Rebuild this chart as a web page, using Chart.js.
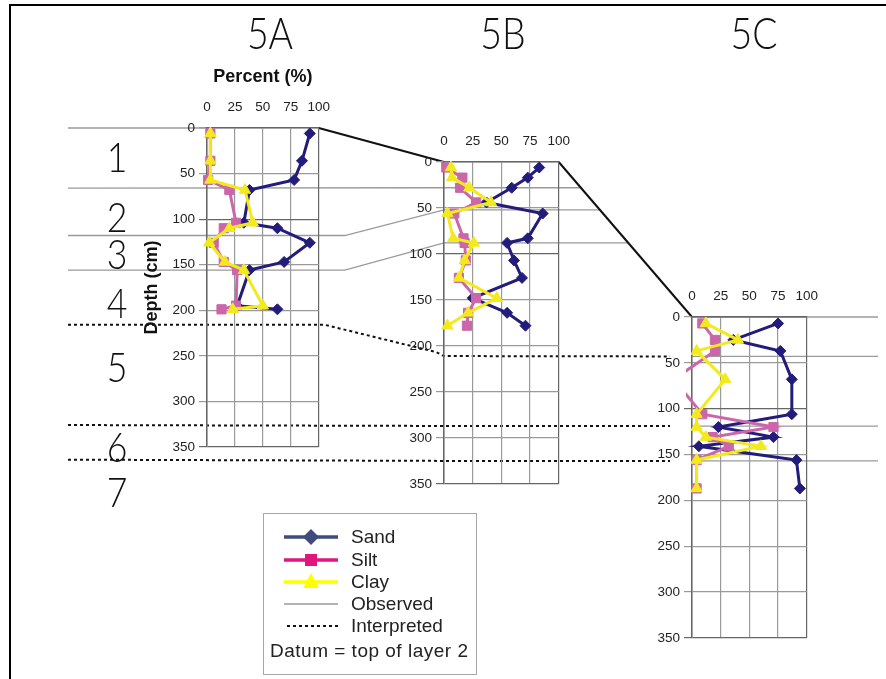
<!DOCTYPE html>
<html>
<head>
<meta charset="utf-8">
<script src="https://cdn.jsdelivr.net/npm/chart.js@4.4.1/dist/chart.umd.min.js"></script>
<style>
  html, body { margin: 0; padding: 0; background: #fff; }
  #fig { position: relative; width: 886px; height: 679px; overflow: hidden; font-family: "Liberation Sans", Arial, sans-serif; }
  #frame { position: absolute; left: 9px; top: 4px; width: 900px; height: 720px; border-left: 2px solid #000; border-top: 2px solid #000; }
  #overlay { position: absolute; left: 0; top: 0; z-index: 0; }
  canvas.core { position: absolute; z-index: 1; }
  .big { position: absolute; z-index: 2; width: 80px; margin-left: -40px; text-align: center; font-family: Lato, "Liberation Sans", sans-serif; font-weight: 300; line-height: 1; color: #111; transform: scaleX(0.85); }
  #legend { position: absolute; z-index: 2; left: 263px; top: 513px; width: 212px; height: 160px; border: 1.5px solid #a8a8a8; }
  .leg { position: absolute; z-index: 3; font-size: 19px; line-height: 22px; color: #222; white-space: nowrap; }
  .note { letter-spacing: 0.5px; }
</style>
</head>
<body>
<div id="fig">
  <div id="frame"></div>
  <canvas id="overlay" width="886" height="679"></canvas>
  <canvas id="chartA" class="core"></canvas>
  <canvas id="chartB" class="core"></canvas>
  <canvas id="chartC" class="core"></canvas>
  <div id="legend"></div>
</div>
<script>
// ---------------- DATA ----------------
const percentTicks = [0, 25, 50, 75, 100];
const depthTicks = [0, 50, 100, 150, 200, 250, 300, 350];
const coreNames = ["5A", "5B", "5C"];
const layerNames = ["1", "2", "3", "4", "5", "6", "7"];
const seriesNames = ["Sand", "Silt", "Clay"];
const lineNames = ["Observed", "Interpreted"];
const datumNote = "Datum = top of layer 2";

// core 5A (depth cm, percent)
const depthA = [6, 36, 57, 68, 104, 110, 126, 147, 156, 195, 199];
const sandA  = [92, 85, 78, 38, 33, 63, 92, 69, 38, 27, 63];
const siltA  = [3, 3, 1, 20, 26, 15, 6, 15, 27, 26, 13];
const clayA  = [3, 3, 3, 34, 41, 20, 2, 16, 33, 50, 23];

// core 5B
const depthB = [6, 17, 28, 44, 56, 83, 88, 107, 126, 148, 164, 178];
const sandB  = [83, 73, 59, 37, 86, 73, 55, 61, 68, 25, 55, 71];
const siltB  = [2, 16, 14, 28, 9, 17, 18, 19, 13, 28, 21, 20];
const clayB  = [6, 7, 22, 41, 3, 8, 26, 18, 13, 46, 21, 3];

// core 5C
const depthC = [7, 25, 37, 68, 106, 120, 131, 141, 156, 187];
const sandC  = [75, 36, 77, 87, 87, 23, 71, 6, 91, 94];
const siltC  = [9, 20, 20, -16, 9, 71, 18, 32, 4, 4];
const clayC  = [12, 40, 4, 29, 4, 4, 12, 60, 4, 4];

// layer boundaries (depth cm in each core)
const observedA = [0, 66, 118, 156];
const observedB = [0, 28, 52, 88];
const observedC = [0, 43, 119, 157];
const interpretedA = [216, 326, 364];
const interpretedB = [211, 287, 325];

// ---------------- STYLE ----------------
const SAND = "#231c7a", SILT = "#cc66aa", CLAY = "#f2ea1d";
Chart.defaults.font.family = '"Liberation Sans", Arial, sans-serif';

function pts(depths, vals) {
    return depths.map((d, i) => ({ x: vals[i], y: d }));
}

function series(label, data, color, style, radius, order) {
    return {
        label: label, data: data, showLine: true,
        borderColor: color, backgroundColor: color, borderWidth: 3,
        pointStyle: style, pointRadius: radius, pointBorderWidth: 1,
        pointBorderColor: color, pointBackgroundColor: color,
        order: order, clip: 6
    };
}

function makeCore(id, box, depths, sand, silt, clay, first) {
    const padL = first ? 66 : 50;
    const padT = first ? 62 : 40;
    const canvas = document.getElementById(id);
    canvas.width = padL + box.w + 14;
    canvas.height = padT + box.h + 10;
    canvas.style.left = (box.x - padL) + "px";
    canvas.style.top = (box.y - padT) + "px";

    const edge = c => (c.tick && (c.tick.value === 100 || c.tick.value === 350)) ? "#666" : "#9a9a9a";

    const chart = new Chart(canvas, {
        type: "scatter",
        data: {
            datasets: [
                series(seriesNames[0], pts(depths, sand), SAND, "rectRot", 5.5, 3),
                series(seriesNames[1], pts(depths, silt), SILT, "rect", 6.5, 2),
                series(seriesNames[2], pts(depths, clay), CLAY, "triangle", 6.5, 1)
            ]
        },
        options: {
            responsive: false,
            animation: false,
            layout: { padding: { left: 0, top: 0, right: 14, bottom: 10 } },
            plugins: { legend: { display: false }, tooltip: { enabled: false } },
            scales: {
                x: {
                    type: "linear", position: "top",
                    min: percentTicks[0], max: percentTicks[percentTicks.length - 1],
                    afterBuildTicks: s => { s.ticks = percentTicks.map(v => ({ value: v })); },
                    ticks: { padding: 13, color: "#222", font: { size: 13.5 } },
                    grid: { color: edge, lineWidth: 1.2, drawTicks: false },
                    border: { color: "#666", width: 1.5 },
                    title: { display: first, text: "Percent (%)", color: "#111", padding: 0, font: { size: 18, weight: "bold" } },
                    afterFit: s => { s.height = padT; }
                },
                y: {
                    type: "linear", reverse: true,
                    min: depthTicks[0], max: depthTicks[depthTicks.length - 1],
                    afterBuildTicks: s => { s.ticks = depthTicks.map(v => ({ value: v })); },
                    ticks: { padding: 4, color: "#222", font: { size: 13.5 } },
                    grid: { color: edge, lineWidth: 1.2, tickLength: 8 },
                    border: { color: "#666", width: 1.5 },
                    title: { display: first, text: "Depth (cm)", color: "#111", padding: 0, font: { size: 18, weight: "bold" } },
                    afterFit: s => { s.width = padL; }
                }
            }
        }
    });
    return { chart: chart, left: box.x - padL, top: box.y - padT };
}

const A = makeCore("chartA", { x: 207, y: 128, w: 122, h: 321 }, depthA, sandA, siltA, clayA, true);
const B = makeCore("chartB", { x: 444, y: 162, w: 125, h: 324 }, depthB, sandB, siltB, clayB, false);
const C = makeCore("chartC", { x: 692, y: 317, w: 125, h: 323 }, depthC, sandC, siltC, clayC, false);

// page coordinates through each core's own scales
const X = (c, v) => c.left + c.chart.scales.x.getPixelForValue(v);
const Y = (c, d) => c.top + c.chart.scales.y.getPixelForValue(d);

// ---------------- OVERLAY: layer correlation lines ----------------
const ctx = document.getElementById("overlay").getContext("2d");

function poly(p) {
    ctx.beginPath();
    ctx.moveTo(p[0][0], p[0][1]);
    for (let i = 1; i < p.length; i++) ctx.lineTo(p[i][0], p[i][1]);
    ctx.stroke();
}

const leftX = 68, rightX = 878;
const bc0 = [X(B, 100), Y(B, 0)], bc1 = [X(C, 0), Y(C, 0)];
const onBC = y => bc0[0] + (y - bc0[1]) * (bc1[0] - bc0[0]) / (bc1[1] - bc0[1]);

// observed boundaries
ctx.strokeStyle = "#9a9a9a";
ctx.lineWidth = 1.3;
poly([[leftX, Y(A, observedA[0])], [X(A, 0), Y(A, observedA[0])]]);
poly([[leftX, Y(A, observedA[1])], [X(B, 0), Y(B, observedB[1])], [onBC(Y(B, observedB[1])), Y(B, observedB[1])]]);
for (let k = 2; k < observedA.length; k++) {
    const ya = Y(A, observedA[k]), yb = Y(B, observedB[k]);
    poly([[leftX, ya], [X(A, 100) + 26, ya], [X(B, 0), yb], [onBC(yb), yb]]);
}
observedC.forEach(d => poly([[X(C, 0), Y(C, d)], [rightX, Y(C, d)]]));

// black datum connectors
ctx.strokeStyle = "#111";
ctx.lineWidth = 2;
poly([[X(A, 100), Y(A, 0)], [X(B, 0), Y(B, 0)]]);
poly([bc0, bc1]);

// interpreted boundaries
ctx.setLineDash([3, 3]);
ctx.lineWidth = 2;
const endC = X(C, 0) - 22;
const y1 = Y(A, interpretedA[0]);
poly([[leftX, y1], [X(A, 100) + 6, y1], [X(B, 0) - 8, Y(B, interpretedB[0]) - 4], [X(B, 0), Y(B, interpretedB[0])], [endC, Y(C, observedC[1])]]);
for (let k = 1; k < interpretedA.length; k++) {
    poly([[leftX, Y(A, interpretedA[k])], [X(B, 0), Y(B, interpretedB[k])], [endC, Y(C, observedC[k + 1])]]);
}
ctx.setLineDash([]);

// ---------------- LEGEND SYMBOLS ----------------
const legY = [537, 560, 582, 604, 626];
const legX0 = 284, legX1 = 338, legMid = (legX0 + legX1) / 2;
const legColors = ["#3f4b7c", "#e0177f", "#ffff00"];

function marker(kind, x, y, color) {
    ctx.fillStyle = color;
    ctx.beginPath();
    if (kind === 0) { ctx.moveTo(x, y - 8); ctx.lineTo(x + 8, y); ctx.lineTo(x, y + 8); ctx.lineTo(x - 8, y); }
    else if (kind === 1) { ctx.rect(x - 6, y - 6, 12, 12); }
    else { ctx.moveTo(x, y - 9); ctx.lineTo(x + 8, y + 6); ctx.lineTo(x - 8, y + 6); }
    ctx.closePath();
    ctx.fill();
}

for (let i = 0; i < 3; i++) {
    ctx.strokeStyle = legColors[i];
    ctx.lineWidth = 3.5;
    poly([[legX0, legY[i]], [legX1, legY[i]]]);
    marker(i, legMid, legY[i], legColors[i]);
}
ctx.strokeStyle = "#9a9a9a"; ctx.lineWidth = 1.3;
poly([[legX0, legY[3]], [legX1, legY[3]]]);
ctx.strokeStyle = "#111"; ctx.lineWidth = 2; ctx.setLineDash([3, 3]);
poly([[legX0 + 3, legY[4]], [legX1, legY[4]]]);
ctx.setLineDash([]);

// ---------------- TEXT ----------------
const fig = document.getElementById("fig");
function addText(cls, text, x, y, size) {
    const el = document.createElement("div");
    el.className = cls;
    el.textContent = text;
    el.style.left = x + "px";
    el.style.top = y + "px";
    if (size) el.style.fontSize = size + "px";
    fig.appendChild(el);
}

const coreX = [270, 503, 754];
coreNames.forEach((n, i) => addText("big", n, coreX[i], 33 - 23, 44));
const layerY = [157, 217, 254, 303, 367, 447, 492];
layerNames.forEach((n, i) => addText("big", n, 117, layerY[i] - 22, 42));

seriesNames.concat(lineNames).forEach((n, i) => addText("leg", n, 351, legY[i] - 11));
addText("leg note", datumNote, 270, 651 - 11);
</script>
</body>
</html>
